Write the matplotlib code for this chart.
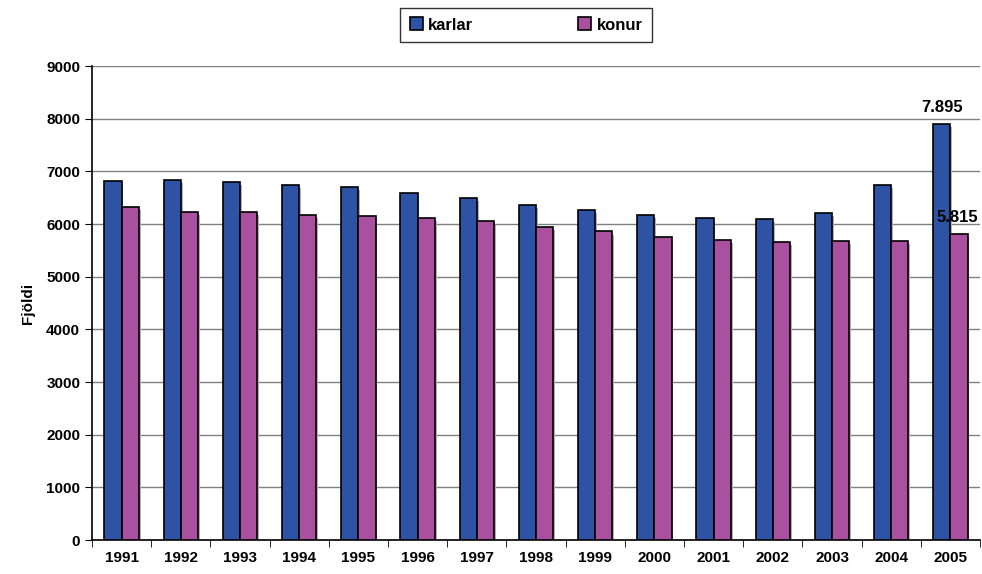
import numpy as np
import matplotlib.pyplot as plt

plt.rcParams['font.family'] = ['Liberation Sans', 'DejaVu Sans']
plt.rcParams['font.weight'] = 'bold'

years = ['1991', '1992', '1993', '1994', '1995', '1996', '1997', '1998',
         '1999', '2000', '2001', '2002', '2003', '2004', '2005']
karlar = [6820, 6830, 6800, 6750, 6700, 6580, 6500, 6360,
          6275, 6180, 6110, 6100, 6210, 6750, 7895]
konur = [6320, 6230, 6230, 6170, 6150, 6110, 6050, 5940,
         5860, 5750, 5690, 5660, 5680, 5680, 5815]

blue = '#2E52A4'
pink = '#A9519E'

fig = plt.figure(figsize=(9.82, 5.74), dpi=100)
ax = fig.add_axes([92/982, 34/574, 888/982, 474/574])

x = np.arange(len(years))
w = 0.29
shadow = dict(color='#b0b0b0', linewidth=0, zorder=2)
ax.bar(x - w/2 + 0.03, karlar, w, bottom=-60, **shadow)
ax.bar(x + w/2 + 0.03, konur, w, bottom=-60, **shadow)
ax.bar(x - w/2, karlar, w, color=blue, edgecolor='black', linewidth=1.2, zorder=3, label='karlar')
ax.bar(x + w/2, konur, w, color=pink, edgecolor='black', linewidth=1.2, zorder=3, label='konur')

ax.text(x[-1] - w/2, karlar[-1] + 170, '7.895', ha='center', va='bottom', fontsize=12, fontweight='bold', zorder=5)
ax.text(x[-1] + w/2 - 0.03, konur[-1] + 170, '5.815', ha='center', va='bottom', fontsize=12, fontweight='bold', zorder=5)

ax.set_xlim(-0.5, len(years) - 0.5)
ax.set_ylim(0, 9000)
ax.set_yticks(range(0, 9001, 1000))
ax.yaxis.grid(True, color='#808080', linewidth=1)
ax.set_axisbelow(True)
ax.set_xticks(x)
ax.set_xticklabels(years)
ax.set_xticks(np.arange(-0.5, len(years), 1), minor=True)
ax.tick_params(axis='x', which='major', length=0, labelsize=11, pad=8)
ax.tick_params(axis='x', which='minor', length=5, direction='out')
ax.tick_params(axis='y', labelsize=11, length=5, direction='out')
for lbl in ax.get_xticklabels() + ax.get_yticklabels():
    lbl.set_fontweight('bold')
ax.spines['top'].set_visible(False)
ax.spines['right'].set_visible(False)
ax.spines['left'].set_linewidth(1.2)
ax.spines['bottom'].set_linewidth(1.2)
ax.set_ylabel('Fjöldi', fontsize=11, fontweight='bold', labelpad=8)

leg = fig.legend(loc='center', bbox_to_anchor=(526/982, 1 - 25/574), ncol=2,
                 frameon=True, fancybox=False, edgecolor='black', fontsize=12,
                 columnspacing=6.3, handlelength=0.8, handleheight=0.8,
                 handletextpad=0.3, borderpad=0.55, borderaxespad=0)
leg.get_frame().set_linewidth(1)
leg._legend_box.align = 'center'
leg.get_frame().set_boxstyle('square', pad=0.0)
for t in leg.get_texts():
    t.set_fontweight('bold')

fig.canvas.draw()
# widen frame a little to match the reference box
bb = leg.get_frame()
bb.set_x(bb.get_x() - 6)
bb.set_width(bb.get_width() + 12)

fig.savefig('out.png', dpi=100)
